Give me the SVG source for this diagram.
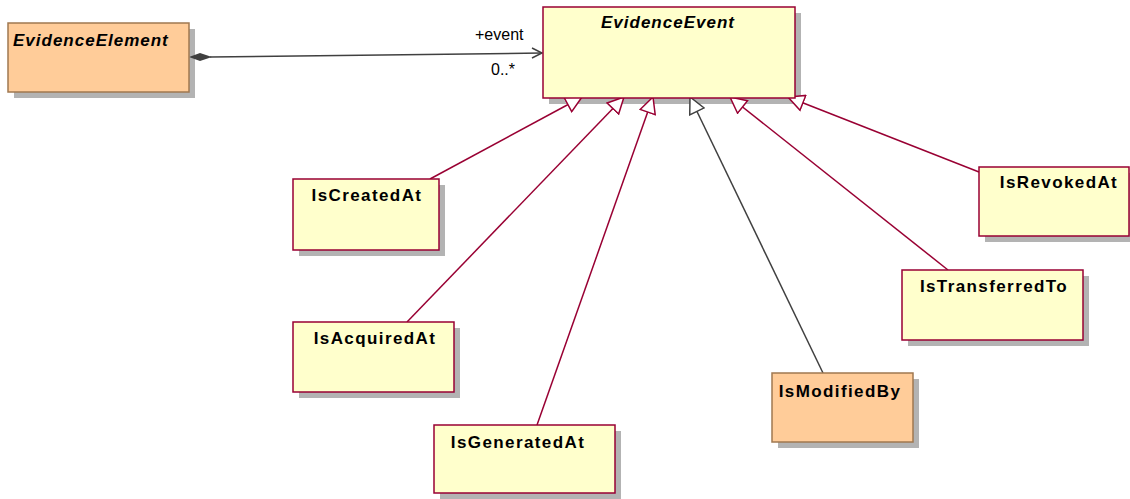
<svg xmlns="http://www.w3.org/2000/svg" width="1130" height="499" viewBox="0 0 1130 499">
<style>
.sh{fill:#b3b3b3}
.y{fill:#ffffcc;stroke:#990033;stroke-width:1.5}
.o{fill:#ffcc99;stroke:#a07850;stroke-width:1.5}
.t{font-family:"Liberation Sans",Arial,sans-serif;font-weight:bold;font-size:17px;letter-spacing:1.4px;fill:#000;text-anchor:middle}
.ti{font-style:italic;letter-spacing:1px}
.g{fill:none;stroke:#990033;stroke-width:1.5}
.gd{fill:none;stroke:#404040;stroke-width:1.5}
.lbl{font-family:"Liberation Sans",Arial,sans-serif;font-size:16px;fill:#000}
</style>
<defs>
<marker id="tri" viewBox="0 0 18 18" refX="17" refY="9" markerWidth="18" markerHeight="18" markerUnits="userSpaceOnUse" orient="auto">
<path d="M1,1 L17,9 L1,17 Z" fill="#fff" stroke="#990033" stroke-width="1.5"/>
</marker>
<marker id="trid" viewBox="0 0 18 18" refX="17" refY="9" markerWidth="18" markerHeight="18" markerUnits="userSpaceOnUse" orient="auto">
<path d="M1,1 L17,9 L1,17 Z" fill="#fff" stroke="#404040" stroke-width="1.5"/>
</marker>
</defs>
<g id="shadows">
<rect class="sh" x="14" y="29" width="181" height="69"/>
<rect class="sh" x="549" y="13" width="252" height="91"/>
<rect class="sh" x="299" y="185" width="146" height="71"/>
<rect class="sh" x="299" y="328" width="161" height="70"/>
<rect class="sh" x="440" y="431" width="181" height="68"/>
<rect class="sh" x="778" y="379" width="141" height="69"/>
<rect class="sh" x="908" y="276" width="181" height="70"/>
<rect class="sh" x="985" y="173" width="150" height="69"/>
</g>
<g id="connectors">
<line class="g" x1="430" y1="179" x2="582" y2="97" marker-end="url(#tri)"/>
<line class="g" x1="407" y1="322" x2="624" y2="97" marker-end="url(#tri)"/>
<line class="g" x1="537" y1="425" x2="653" y2="97" marker-end="url(#tri)"/>
<line class="gd" x1="823" y1="373" x2="690" y2="97" marker-end="url(#trid)"/>
<line class="g" x1="948" y1="270" x2="730" y2="97" marker-end="url(#tri)"/>
<line class="g" x1="979" y1="172" x2="788" y2="97" marker-end="url(#tri)"/>
<g id="assoc">
<line x1="210" y1="57" x2="542" y2="53" stroke="#404040" stroke-width="1.5"/>
<path d="M189,57 L200,53 L212,57 L200,61 Z" fill="#404040"/>
<path d="M532,48 L542,53 L532,58" fill="none" stroke="#404040" stroke-width="1.5"/>
<text class="lbl" x="475" y="40">+event</text>
<text class="lbl" x="491" y="75">0..*</text>
</g>
</g>
<g id="EvidenceElement">
<rect class="o" x="8" y="23" width="181" height="69"/>
<text class="t ti" x="13" y="46" style="text-anchor:start">EvidenceElement</text>
</g>
<g id="EvidenceEvent">
<rect class="y" x="543" y="7" width="252" height="91"/>
<text class="t ti" x="668" y="28">EvidenceEvent</text>
</g>
<g id="IsCreatedAt">
<rect class="y" x="293" y="179" width="146" height="71"/>
<text class="t" x="367" y="201">IsCreatedAt</text>
</g>
<g id="IsAcquiredAt">
<rect class="y" x="293" y="322" width="161" height="70"/>
<text class="t" x="375" y="344">IsAcquiredAt</text>
</g>
<g id="IsGeneratedAt">
<rect class="y" x="434" y="425" width="181" height="68"/>
<text class="t" x="518" y="448">IsGeneratedAt</text>
</g>
<g id="IsModifiedBy">
<rect class="o" x="772" y="373" width="141" height="69"/>
<text class="t" x="840" y="397">IsModifiedBy</text>
</g>
<g id="IsTransferredTo">
<rect class="y" x="902" y="270" width="181" height="70"/>
<text class="t" x="994" y="292">IsTransferredTo</text>
</g>
<g id="IsRevokedAt">
<rect class="y" x="979" y="167" width="150" height="69"/>
<text class="t" x="1059" y="188">IsRevokedAt</text>
</g>
</svg>
